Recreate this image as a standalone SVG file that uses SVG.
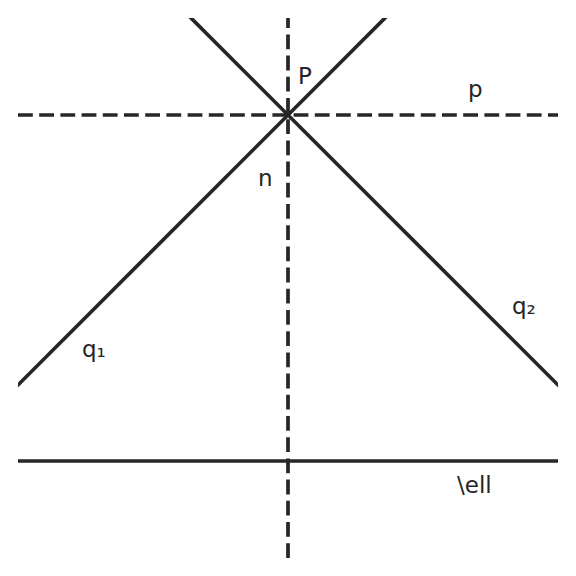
<svg xmlns="http://www.w3.org/2000/svg" width="576" height="576" viewBox="0 0 576 576">
<style>
.ln{stroke:#262628;stroke-width:3.7;fill:none}
.ds{stroke-dasharray:14.8 6.4}
.lb{font-family:"DejaVu Sans",sans-serif;font-size:23px;fill:#262628}
</style>
<defs><clipPath id="ax"><rect x="18" y="18" width="540" height="540"/></clipPath></defs>
<rect width="576" height="576" fill="#ffffff"/>
<g id="connectors" clip-path="url(#ax)">
<line id="line-p" class="ln ds" x1="18" y1="115" x2="600" y2="115"/>
<line id="line-n" class="ln ds" x1="288" y1="558" x2="288" y2="-20"/>
<line id="line-ell" class="ln" x1="0" y1="461" x2="600" y2="461"/>
<line id="line-q1" class="ln" x1="-20" y1="423" x2="423" y2="-20"/>
<line id="line-q2" class="ln" x1="153" y1="-20" x2="600" y2="427"/>
</g>
<g id="node-P"><text class="lb" x="298" y="84">P</text></g>
<g id="node-p"><text class="lb" x="468" y="97">p</text></g>
<g id="node-n"><text class="lb" x="258" y="186">n</text></g>
<g id="node-q1"><text class="lb" x="82" y="357">q₁</text></g>
<g id="node-q2"><text class="lb" x="512" y="314">q₂</text></g>
<g id="node-ell"><text class="lb" x="457" y="493">\ell</text></g>
</svg>
